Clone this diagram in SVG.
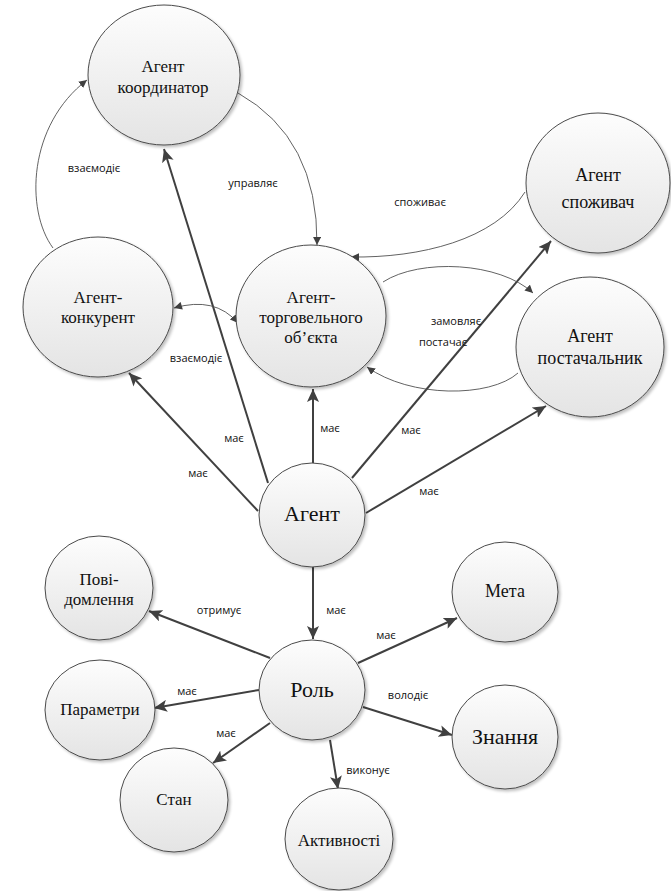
<svg xmlns="http://www.w3.org/2000/svg" width="671" height="891" viewBox="0 0 671 891">
<style>
.node{fill:url(#g);stroke:#4a4a4a;stroke-width:1;filter:url(#sh)}
.nt{fill:#111;text-anchor:middle}
.el{font-family:'Open Sans','DejaVu Sans',sans-serif;font-size:11px;fill:#111;text-anchor:middle}
.thick{fill:none;stroke:#404040;stroke-width:2;marker-end:url(#ah)}
.thin{fill:none;stroke:#505050;stroke-width:0.9;marker-end:url(#as)}
</style>
<defs>
<linearGradient id="g" x1="0" y1="0" x2="0" y2="1">
<stop offset="0" stop-color="#fdfdfd"/>
<stop offset="1" stop-color="#e4e4e4"/>
</linearGradient>
<filter id="sh" x="-20%" y="-20%" width="150%" height="150%">
<feGaussianBlur in="SourceAlpha" stdDeviation="1.5"/>
<feOffset dx="2" dy="2" result="b"/>
<feComponentTransfer><feFuncA type="linear" slope="0.25"/></feComponentTransfer>
<feMerge><feMergeNode/><feMergeNode in="SourceGraphic"/></feMerge>
</filter>
<marker id="ah" markerUnits="userSpaceOnUse" markerWidth="14" markerHeight="12" refX="13" refY="6" orient="auto">
<path d="M0,0 L13,6 L0,12 L3,6 z" fill="#404040"/>
</marker>
<marker id="as" markerUnits="userSpaceOnUse" markerWidth="9" markerHeight="8" refX="8" refY="4" orient="auto">
<path d="M0,0 L8,4 L0,8 z" fill="#404040"/>
</marker>
<marker id="asr" markerUnits="userSpaceOnUse" markerWidth="9" markerHeight="8" refX="0" refY="4" orient="auto">
<path d="M8,0 L0,4 L8,8 z" fill="#404040"/>
</marker>
</defs>
<rect width="671" height="891" fill="#fff"/>

<g id="connectors">
<path class="thick" d="M268,483 L164,149"/>
<path class="thick" d="M258,511 L129,373"/>
<path class="thick" d="M313,463 L313,389"/>
<path class="thick" d="M352,478 L551,241"/>
<path class="thick" d="M366,513 L546,406"/>
<path class="thick" d="M313,567 L313,639"/>
<path class="thick" d="M270,658 L149,611"/>
<path class="thick" d="M259,690 L154,708"/>
<path class="thick" d="M270,723 L213,763"/>
<path class="thick" d="M330,740 L338,789"/>
<path class="thick" d="M358,663 L457,618"/>
<path class="thick" d="M363,707 L452,735"/>
<path class="thin" d="M238,93 Q318,138 317,245"/>
<path class="thin" d="M53,248 C25,210 28,125 87,80"/>
<path class="thin" d="M525,192 C495,240 420,258 351,257"/>
<path class="thin" d="M383,282 C420,258 500,262 533,293"/>
<path class="thin" d="M518,373 C490,398 410,398 367,367"/>
<path class="thin" d="M174,308 Q215,296 238,323" marker-start="url(#asr)"/>
<text class="el" x="94" y="172">взаємодіє</text>
<text class="el" x="253" y="187">управляє</text>
<text class="el" x="420" y="206">споживає</text>
<text class="el" x="456" y="325">замовляє</text>
<text class="el" x="443" y="346">постачає</text>
<text class="el" x="196" y="362">взаємодіє</text>
<text class="el" x="234" y="442">має</text>
<text class="el" x="198" y="477">має</text>
<text class="el" x="330" y="432">має</text>
<text class="el" x="411" y="434">має</text>
<text class="el" x="429" y="495">має</text>
<text class="el" x="336" y="614">має</text>
<text class="el" x="386" y="639">має</text>
<text class="el" x="408" y="699">володіє</text>
<text class="el" x="219" y="614">отримує</text>
<text class="el" x="187" y="695">має</text>
<text class="el" x="226" y="737">має</text>
<text class="el" x="368" y="774">виконує</text>
</g>

<g id="n-koord" font-family="Liberation Serif, DejaVu Serif, serif">
<ellipse class="node" cx="164" cy="75" rx="76" ry="70"/>
<text class="nt" x="163" y="72" font-size="17">Агент</text>
<text class="nt" x="163" y="93" font-size="17">координатор</text>
</g>
<g id="n-konk" font-family="Liberation Serif, DejaVu Serif, serif">
<ellipse class="node" cx="98" cy="307" rx="75" ry="70"/>
<text class="nt" x="98" y="303" font-size="17">Агент-</text>
<text class="nt" x="98" y="323" font-size="17">конкурент</text>
</g>
<g id="n-torg" font-family="Liberation Serif, DejaVu Serif, serif">
<ellipse class="node" cx="311" cy="316" rx="75" ry="71"/>
<text class="nt" x="311" y="303" font-size="17">Агент-</text>
<text class="nt" x="311" y="323" font-size="17">торговельного</text>
<text class="nt" x="311" y="343" font-size="17">об’єкта</text>
</g>
<g id="n-spoz" font-family="Liberation Serif, DejaVu Serif, serif">
<ellipse class="node" cx="598" cy="183" rx="72" ry="70"/>
<text class="nt" x="598" y="181" font-size="18">Агент</text>
<text class="nt" x="598" y="208" font-size="18">споживач</text>
</g>
<g id="n-post" font-family="Liberation Serif, DejaVu Serif, serif">
<ellipse class="node" cx="590" cy="347" rx="74" ry="70"/>
<text class="nt" x="590" y="342" font-size="18">Агент</text>
<text class="nt" x="590" y="364" font-size="18">постачальник</text>
</g>
<g id="n-agent" font-family="Liberation Serif, DejaVu Serif, serif">
<ellipse class="node" cx="312" cy="515" rx="53" ry="52"/>
<text class="nt" x="312" y="521" font-size="22">Агент</text>
</g>
<g id="n-rol" font-family="Liberation Serif, DejaVu Serif, serif">
<ellipse class="node" cx="312" cy="690" rx="53" ry="50"/>
<text class="nt" x="312" y="697" font-size="22">Роль</text>
</g>
<g id="n-povid" font-family="Liberation Serif, DejaVu Serif, serif">
<ellipse class="node" cx="99" cy="588" rx="54" ry="52"/>
<text class="nt" x="99" y="585" font-size="17">Пові-</text>
<text class="nt" x="99" y="605" font-size="17">домлення</text>
</g>
<g id="n-param" font-family="Liberation Serif, DejaVu Serif, serif">
<ellipse class="node" cx="100" cy="710" rx="55" ry="50"/>
<text class="nt" x="100" y="715" font-size="17">Параметри</text>
</g>
<g id="n-stan" font-family="Liberation Serif, DejaVu Serif, serif">
<ellipse class="node" cx="174" cy="800" rx="54" ry="52"/>
<text class="nt" x="174" y="805" font-size="17">Стан</text>
</g>
<g id="n-aktyv" font-family="Liberation Serif, DejaVu Serif, serif">
<ellipse class="node" cx="339" cy="839" rx="54" ry="51"/>
<text class="nt" x="339" y="846" font-size="17">Активності</text>
</g>
<g id="n-meta" font-family="Liberation Serif, DejaVu Serif, serif">
<ellipse class="node" cx="505" cy="592" rx="53" ry="50"/>
<text class="nt" x="505" y="597" font-size="18">Мета</text>
</g>
<g id="n-znan" font-family="Liberation Serif, DejaVu Serif, serif">
<ellipse class="node" cx="505" cy="737" rx="53" ry="52"/>
<text class="nt" x="505" y="744" font-size="22">Знання</text>
</g>
</svg>
